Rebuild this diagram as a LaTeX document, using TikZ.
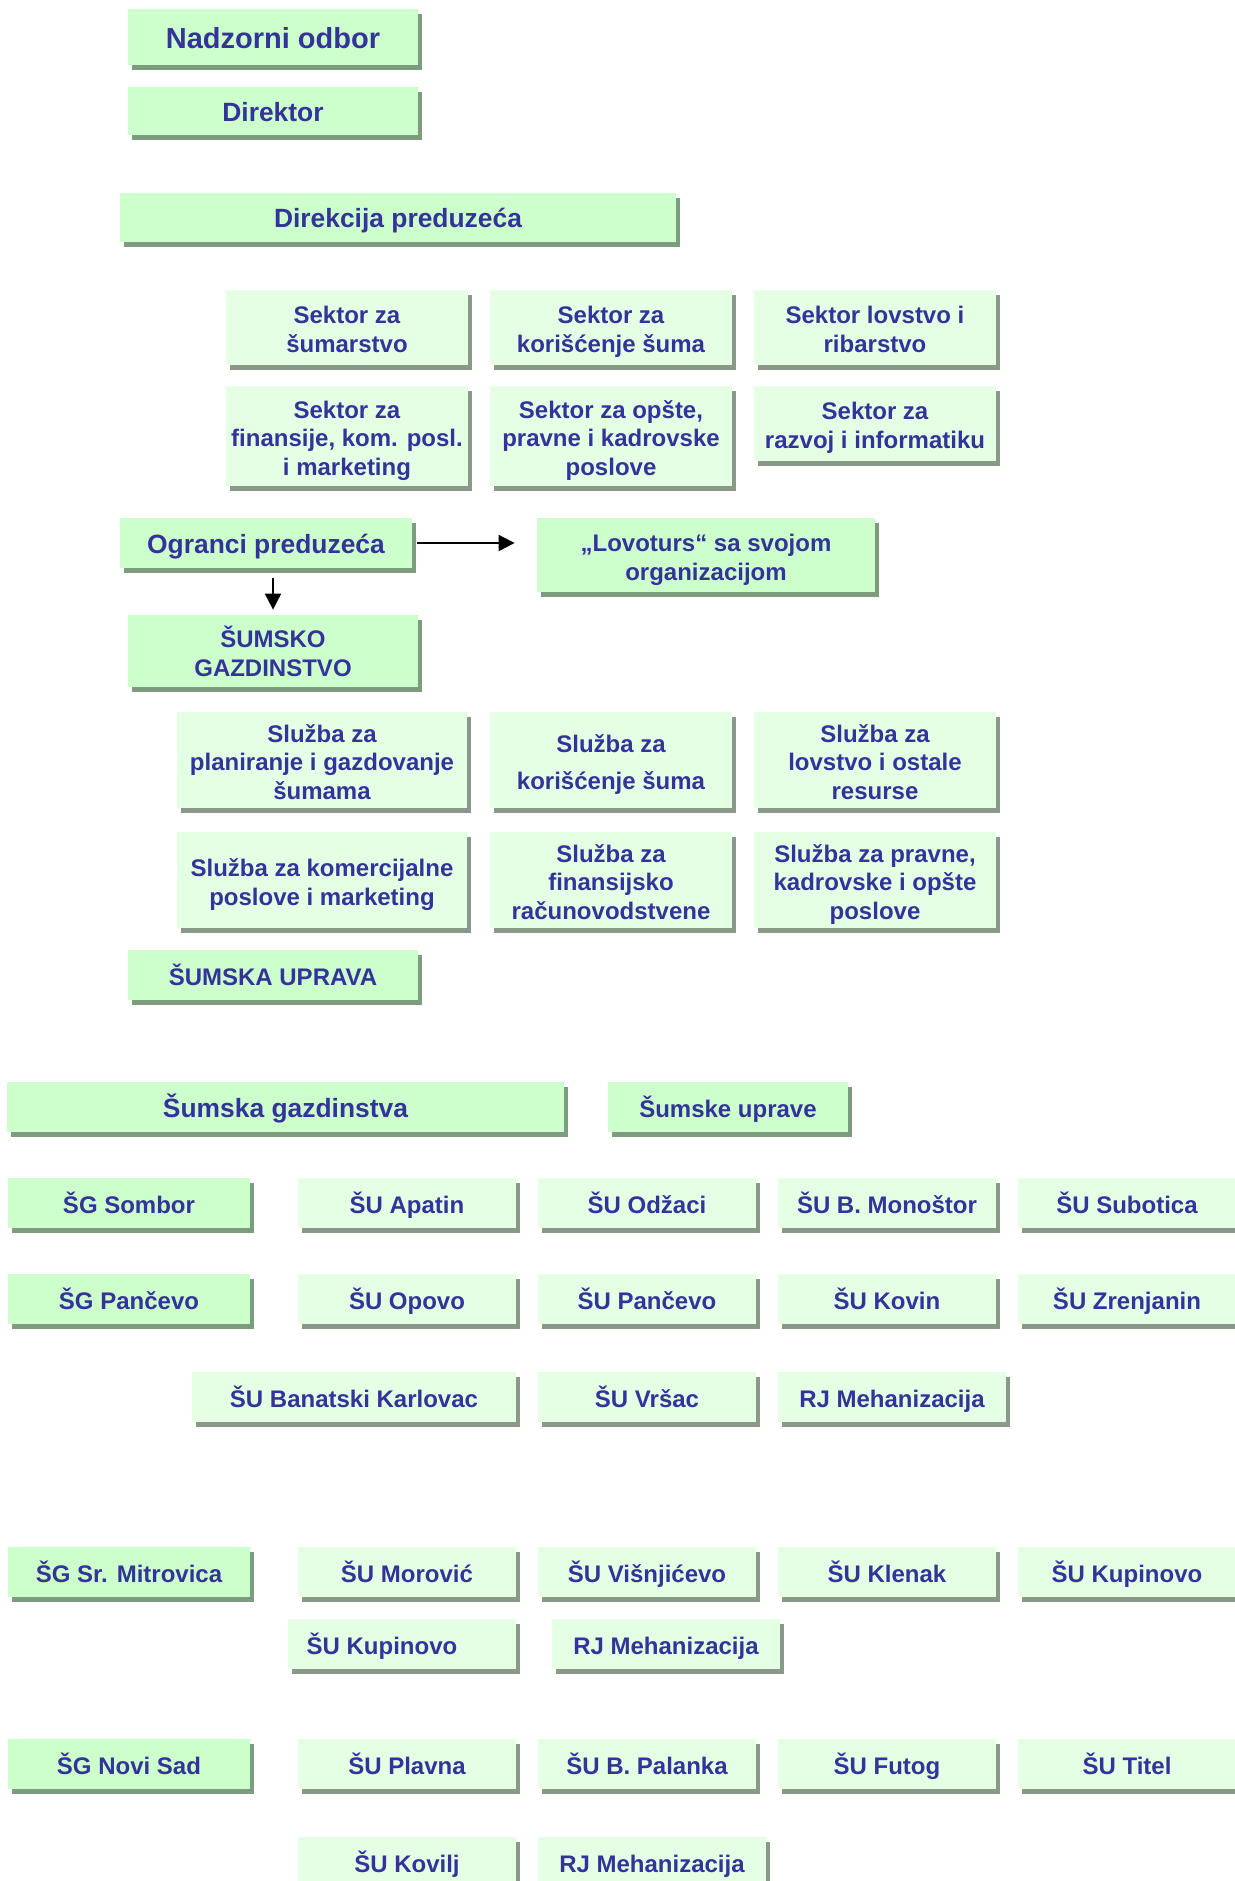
\documentclass[tikz,border=0pt]{standalone}
\usepackage{fontspec}
\setmainfont{Liberation Sans}
\definecolor{textblue}{RGB}{51, 51, 153}
\definecolor{boxgreen}{RGB}{204, 255, 204}
\definecolor{palegreen}{RGB}{229, 255, 229}
\definecolor{shadegreen}{RGB}{125, 155, 125}
\definecolor{shadegray}{RGB}{138, 152, 138}
\usetikzlibrary{arrows.meta, shadows}

\tikzset{
  boxsize/.style 2 args={minimum width=#1*0.5pt, minimum height=#2*0.5pt},
  orgbox/.style={rectangle, inner sep=0pt, align=center, text=textblue, font=\bfseries\fontsize{12}{14.4}\selectfont},
  darkbox/.style={orgbox, fill=boxgreen, drop shadow={shadow xshift=2pt, shadow yshift=-2.5pt, fill=shadegreen, opacity=1}},
  lightbox/.style={orgbox, fill=palegreen, drop shadow={shadow xshift=2pt, shadow yshift=-2.5pt, fill=shadegray, opacity=1}},
  oneline/.style={text height=13.2pt, text depth=2.4pt},
  twolines/.style={text height=27.6pt, text depth=2.4pt},
  threelines/.style={text height=42pt, text depth=2.4pt},
  bigtext/.style={font=\bfseries\fontsize{14.5}{17}\selectfont, text height=14pt, text depth=2.6pt},
  midtext/.style={font=\bfseries\fontsize{13.2}{16}\selectfont, text height=12.6pt, text depth=2.55pt},
  arrowline/.style={line width=1pt, -{Triangle[length=8pt, width=8pt]}}
}

\begin{document}
\begin{tikzpicture}[x=0.5pt, y=-0.5pt]
  \path[use as bounding box, clip] (0,0) rectangle (1235,1881);
  \fill[white] (0,0) rectangle (1235,1881);

  % Management
  \node[darkbox, bigtext, boxsize={290}{56}] (nadzor) at (273,37) {Nadzorni odbor};
  \node[darkbox, midtext, boxsize={290}{48}] (direktor) at (273,111) {Direktor};
  \node[darkbox, midtext, boxsize={556}{49}] (direkcija) at (398,217.5) {Direkcija preduzeća};

  % Sectors
  \node[lightbox, twolines, boxsize={242}{75}] (sumarstvo) at (347,327.5) {Sektor za\\šumarstvo};
  \node[lightbox, twolines, boxsize={242}{75}] (koriscenje) at (611,327.5) {Sektor za\\korišćenje šuma};
  \node[lightbox, twolines, boxsize={242}{75}] (lovstvo) at (875,327.5) {Sektor lovstvo i\\ribarstvo};
  \node[lightbox, threelines, boxsize={242}{100}] (finansije) at (347,436) {Sektor za\\finansije, kom. posl.\\i marketing};
  \node[lightbox, threelines, boxsize={242}{100}] (opste) at (611,436) {Sektor za opšte,\\pravne i kadrovske\\poslove};
  \node[lightbox, twolines, boxsize={242}{75}] (razvoj) at (875,423.5) {Sektor za\\razvoj i informatiku};

  % Branches
  \node[darkbox, midtext, boxsize={292}{50}] (ogranci) at (266,543) {Ogranci preduzeća};
  \node[darkbox, twolines, boxsize={338}{74}] (lovoturs) at (706,555) {„Lovoturs“ sa svojom\\organizacijom};
  \node[darkbox, twolines, boxsize={290}{72}] (sgaz) at (273,651) {ŠUMSKO\\GAZDINSTVO};

  \draw[arrowline, shorten <=2.5pt, shorten >=11pt] (ogranci.east) -- (ogranci.east -| lovoturs.west);
  \draw[arrowline, shorten <=5pt, shorten >=2.5pt] (sgaz.north |- ogranci.south) -- (sgaz.north);

  % Services
  \node[lightbox, threelines, boxsize={290}{96}] (planiranje) at (322,760) {Služba za\\planiranje i gazdovanje\\šumama};
  \node[lightbox, text height=31.6pt, text depth=2.4pt, boxsize={242}{96}] (skoriscenje) at (611,760) {Služba za\\[4pt]korišćenje šuma};
  \node[lightbox, threelines, boxsize={242}{96}] (slovstvo) at (875,760) {Služba za\\lovstvo i ostale\\resurse};
  \node[lightbox, twolines, boxsize={290}{96}] (komercijalne) at (322,880) {Služba za komercijalne\\poslove i marketing};
  \node[lightbox, threelines, boxsize={242}{96}] (racunovodstvo) at (611,880) {Služba za\\finansijsko\\računovodstvene};
  \node[lightbox, threelines, boxsize={242}{96}] (pravne) at (875,880) {Služba za pravne,\\kadrovske i opšte\\poslove};

  \node[darkbox, oneline, boxsize={290}{50}] (suprava) at (273,975) {ŠUMSKA UPRAVA};

  % Forest estates and units
  \node[darkbox, midtext, boxsize={557}{50}] (gazdinstva) at (285.5,1107) {Šumska gazdinstva};
  \node[darkbox, oneline, boxsize={240}{50}] (uprave) at (728,1107) {Šumske uprave};

  \node[darkbox, oneline, boxsize={242}{50}] (sombor) at (129,1203) {ŠG Sombor};
  \node[lightbox, oneline, boxsize={218}{50}] (apatin) at (407,1203) {ŠU Apatin};
  \node[lightbox, oneline, boxsize={218}{50}] (odzaci) at (647,1203) {ŠU Odžaci};
  \node[lightbox, oneline, boxsize={218}{50}] (monostor) at (887,1203) {ŠU B. Monoštor};
  \node[lightbox, oneline, boxsize={218}{50}] (subotica) at (1127,1203) {ŠU Subotica};

  \node[darkbox, oneline, boxsize={242}{50}] (gpancevo) at (129,1299) {ŠG Pančevo};
  \node[lightbox, oneline, boxsize={218}{50}] (opovo) at (407,1299) {ŠU Opovo};
  \node[lightbox, oneline, boxsize={218}{50}] (upancevo) at (647,1299) {ŠU Pančevo};
  \node[lightbox, oneline, boxsize={218}{50}] (kovin) at (887,1299) {ŠU Kovin};
  \node[lightbox, oneline, boxsize={218}{50}] (zrenjanin) at (1127,1299) {ŠU Zrenjanin};

  \node[lightbox, oneline, boxsize={324}{50}] (karlovac) at (354,1397) {ŠU Banatski Karlovac};
  \node[lightbox, oneline, boxsize={218}{50}] (vrsac) at (647,1397) {ŠU Vršac};
  \node[lightbox, oneline, boxsize={228}{50}] (mehbanat) at (892,1397) {RJ Mehanizacija};

  \node[darkbox, oneline, boxsize={242}{50}] (mitrovica) at (129,1572) {ŠG Sr. Mitrovica};
  \node[lightbox, oneline, boxsize={218}{50}] (morovic) at (407,1572) {ŠU Morović};
  \node[lightbox, oneline, boxsize={218}{50}] (visnjicevo) at (647,1572) {ŠU Višnjićevo};
  \node[lightbox, oneline, boxsize={218}{50}] (klenak) at (887,1572) {ŠU Klenak};
  \node[lightbox, oneline, boxsize={218}{50}] (kupinovoa) at (1127,1572) {ŠU Kupinovo};

  \node[lightbox, oneline, boxsize={228}{50}] (kupinovob) at (402,1644) {ŠU Kupinovo\hspace*{20pt}};
  \node[lightbox, oneline, boxsize={228}{50}] (mehsrem) at (666,1644) {RJ Mehanizacija};

  \node[darkbox, oneline, boxsize={242}{50}] (novisad) at (129,1764) {ŠG Novi Sad};
  \node[lightbox, oneline, boxsize={218}{50}] (plavna) at (407,1764) {ŠU Plavna};
  \node[lightbox, oneline, boxsize={218}{50}] (palanka) at (647,1764) {ŠU B. Palanka};
  \node[lightbox, oneline, boxsize={218}{50}] (futog) at (887,1764) {ŠU Futog};
  \node[lightbox, oneline, boxsize={218}{50}] (titel) at (1127,1764) {ŠU Titel};

  \node[lightbox, oneline, boxsize={218}{50}] (kovilj) at (407,1862) {ŠU Kovilj};
  \node[lightbox, oneline, boxsize={228}{50}] (mehbacka) at (652,1862) {RJ Mehanizacija};
\end{tikzpicture}
\end{document}
